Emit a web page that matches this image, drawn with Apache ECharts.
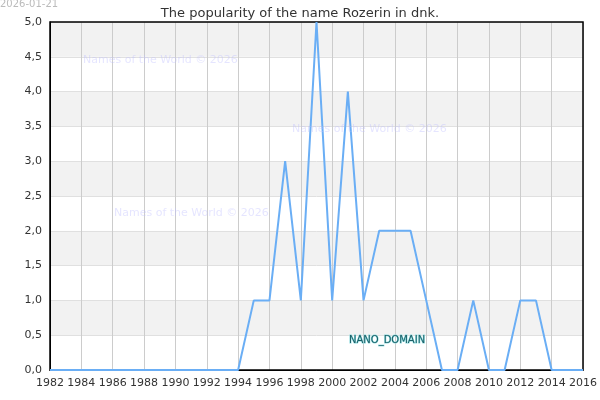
<!DOCTYPE html>
<html><head><meta charset="utf-8">
<script src="https://cdn.jsdelivr.net/npm/echarts@6/dist/echarts.min.js"></script>
<style>html,body{margin:0;padding:0;background:#fff}#c{width:600px;height:400px}</style>
</head><body><div id="c"></div>
<script>
const years = [1982,1983,1984,1985,1986,1987,1988,1989,1990,1991,1992,1993,1994,1995,1996,1997,1998,1999,2000,2001,2002,2003,2004,2005,2006,2007,2008,2009,2010,2011,2012,2013,2014,2015,2016];
const counts = [0,0,0,0,0,0,0,0,0,0,0,0,0,1,1,3,1,5,1,4,1,2,2,2,1,0,0,1,0,0,1,1,0,0,0];
const titleText = 'The popularity of the name Rozerin in dnk.';
const dateText = '2026-01-21';
const watermark = 'Names of the World © 2026';
const chart = echarts.init(document.getElementById('c'));
const fmt = v => v.toFixed(1).replace('.', ',');
const wm = (x,y) => ({type:'text',x:x,y:y,z:100,style:{text:watermark,fill:'rgba(190,190,255,0.4)',fontSize:11,fontFamily:'DejaVu Sans'}});
chart.setOption({
  animation:false,
  title:{text:titleText,left:'center',top:2,textStyle:{fontFamily:'DejaVu Sans',fontSize:13,fontWeight:'normal',color:'#333'}},
  grid:{left:50,right:14,top:22,bottom:30,show:true,borderColor:'#000',borderWidth:1.5,z:3},
  xAxis:{type:'value',min:1982,max:2016,interval:2,
    axisLine:{show:true,lineStyle:{color:'#000'}},axisTick:{show:false},
    axisLabel:{color:'#333',fontFamily:'DejaVu Sans',fontSize:11,formatter:v=>String(v),showMinLabel:true,showMaxLabel:true,hideOverlap:false},
    splitLine:{show:true,lineStyle:{color:'#ccc'}}},
  yAxis:{type:'value',min:0,max:5,interval:0.5,
    axisLine:{show:true,lineStyle:{color:'#000'}},axisTick:{show:false},
    axisLabel:{color:'#333',fontFamily:'DejaVu Sans',fontSize:11,formatter:fmt},
    splitLine:{show:true,lineStyle:{color:'#e0e0e0'}},
    splitArea:{show:true,areaStyle:{color:['#fff','#f2f2f2']}}},
  series:[{type:'line',data:years.map((y,i)=>[y,counts[i]]),symbol:'none',
    lineStyle:{color:'#6aaef5',width:2}}]
});
chart.setOption({graphic:[
    {type:'text',x:0,y:-1,z:100,style:{text:dateText,fill:'#bbb',fontSize:10,fontFamily:'DejaVu Sans'}},
    wm(83,55), wm(292,124), wm(114,208),
    {type:'text',x:349,y:335,z:100,style:{text:'NANO_DOMAIN',fill:'#1c5e66',stroke:'#8fdde0',lineWidth:1,fontSize:10,fontFamily:'DejaVu Sans'}}
]});
</script></body></html>
